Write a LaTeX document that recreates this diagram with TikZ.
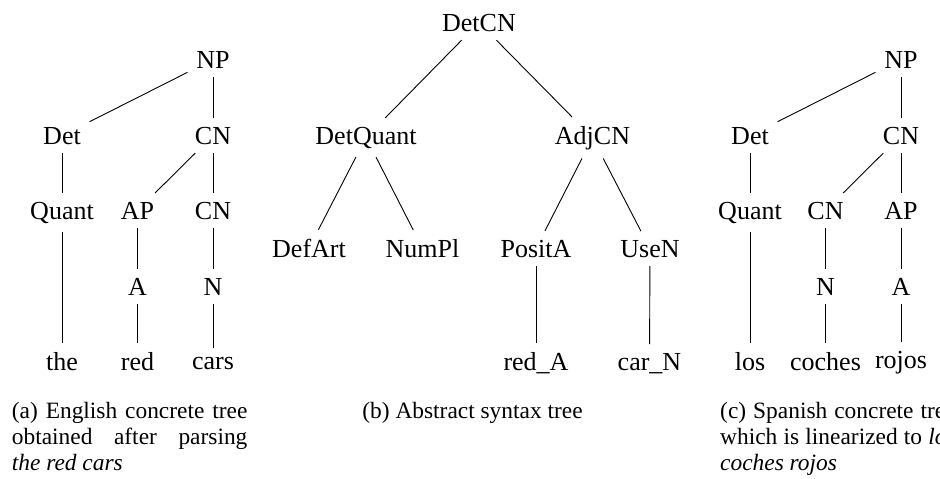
\documentclass[tikz,border=0pt]{standalone}
\usepackage{fontspec}
\setmainfont{Liberation Serif}
\begin{document}
\begin{tikzpicture}[x=1pt,y=-1pt,
  lbl/.style={font=\fontsize{26}{31}\selectfont, inner sep=8.7pt, anchor=base},
  capbox/.style={font=\fontsize{23.4}{26.3}\selectfont, inner sep=0pt, anchor=base west,
                 text width=235.5pt, align=justify},
  branch/.style={line width=0.9pt}]
\useasboundingbox (0,0) rectangle (940,479);

% ---- (a) English concrete tree ----
\node[lbl] (aNP)    at (213,68)    {NP};
\node[lbl] (aDet)   at (62,144)    {Det};
\node[lbl] (aCN)    at (213,144)   {CN};
\node[lbl] (aQuant) at (62,219)    {Quant};
\node[lbl] (aAP)    at (137.5,219) {AP};
\node[lbl] (aCNb)   at (213,219)   {CN};
\node[lbl] (aA)     at (137.5,295) {A};
\node[lbl] (aN)     at (213,295)   {N};
\node[lbl] (athe)   at (62,370)    {the};
\node[lbl] (ared)   at (137.5,370) {red};
\node[lbl] (acars)  at (213,369)   {cars};
\draw[branch] (aNP) -- (aDet);
\draw[branch] (aNP) -- (aCN);
\draw[branch] (aDet) -- (aQuant);
\draw[branch] (aQuant) -- (athe);
\draw[branch] (aCN) -- (aAP);
\draw[branch] (aCN) -- (aCNb);
\draw[branch] (aAP) -- (aA);
\draw[branch] (aA) -- (ared);
\draw[branch] (aCNb) -- (aN);
\draw[branch] (aN) -- (acars);

% ---- (b) abstract syntax tree ----
\node[lbl] (bDetCN)    at (479,31)    {DetCN};
\node[lbl] (bDetQuant) at (366,144)   {DetQuant};
\node[lbl] (bAdjCN)    at (592.5,144) {AdjCN};
\node[lbl] (bDefArt)   at (309,257)   {DefArt};
\node[lbl] (bNumPl)    at (422.5,257) {NumPl};
\node[lbl] (bPositA)   at (536,257)   {PositA};
\node[lbl] (bUseN)     at (650,257)   {UseN};
\node[lbl] (bredA)     at (536,370)   {red\_A};
\node[lbl] (bcarN)     at (649.5,370) {car\_N};
\draw[branch] (bDetCN) -- (bDetQuant);
\draw[branch] (bDetCN) -- (bAdjCN);
\draw[branch] (bDetQuant) -- (bDefArt);
\draw[branch] (bDetQuant) -- (bNumPl);
\draw[branch] (bAdjCN) -- (bPositA);
\draw[branch] (bAdjCN) -- (bUseN);
\draw[branch] (bPositA) -- (bredA);
\draw[branch] (bUseN) -- (bcarN);

% ---- (c) Spanish concrete tree ----
\node[lbl] (cNP)     at (901,68)    {NP};
\node[lbl] (cDet)    at (750,144)   {Det};
\node[lbl] (cCN)     at (901,144)   {CN};
\node[lbl] (cQuant)  at (750,219)   {Quant};
\node[lbl] (cCNb)    at (825.5,219) {CN};
\node[lbl] (cAP)     at (901,219)   {AP};
\node[lbl] (cN)      at (825.5,295) {N};
\node[lbl] (cA)      at (901,295)   {A};
\node[lbl] (clos)    at (750,370)   {los};
\node[lbl] (ccoches) at (825.5,370) {coches};
\node[lbl] (crojos)  at (901,368)   {rojos};
\draw[branch] (cNP) -- (cDet);
\draw[branch] (cNP) -- (cCN);
\draw[branch] (cDet) -- (cQuant);
\draw[branch] (cQuant) -- (clos);
\draw[branch] (cCN) -- (cCNb);
\draw[branch] (cCN) -- (cAP);
\draw[branch] (cCNb) -- (cN);
\draw[branch] (cN) -- (ccoches);
\draw[branch] (cAP) -- (cA);
\draw[branch] (cA) -- (crojos);

% ---- captions ----
\node[capbox] (capA) at (11.7,418)
  {\hyphenpenalty=10000 (a) English concrete tree\linebreak obtained after parsing\linebreak \textit{the red cars}};
\node[font=\fontsize{23.4}{26.3}\selectfont, inner sep=0pt, anchor=base] (capB) at (472.5,418)
  {(b) Abstract syntax tree};
\node[capbox] (capC) at (720,418)
  {\hyphenpenalty=10000 (c) Spanish concrete tree\linebreak which is linearized to \textit{los}\linebreak \textit{coches rojos}};
\end{tikzpicture}
\end{document}
